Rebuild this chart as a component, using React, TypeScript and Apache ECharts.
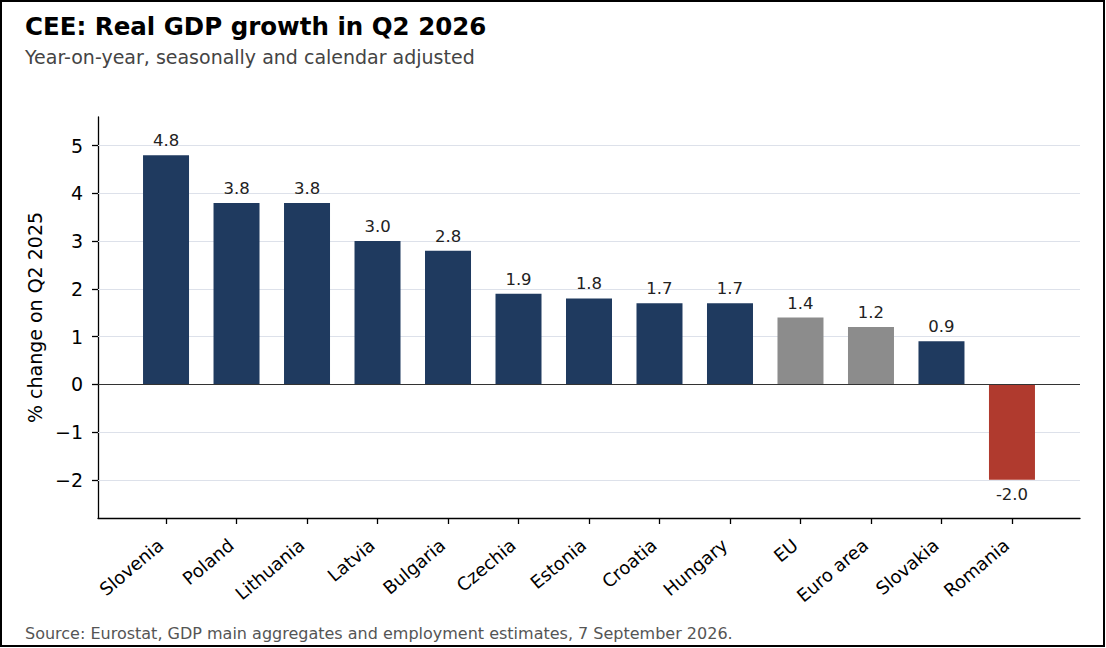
import React, { useEffect, useRef } from "react";
import * as echarts from "echarts";

const categories = ["Slovenia", "Poland", "Lithuania", "Latvia", "Bulgaria", "Czechia", "Estonia", "Croatia", "Hungary", "EU", "Euro area", "Slovakia", "Romania"];
const values = [4.8, 3.8, 3.8, 3.0, 2.8, 1.9, 1.8, 1.7, 1.7, 1.4, 1.2, 0.9, -2.0];
const groups = ["cee", "cee", "cee", "cee", "cee", "cee", "cee", "cee", "cee", "agg", "agg", "cee", "neg"];
const yTicks = [-2, -1, 0, 1, 2, 3, 4, 5];
const xTickIdx = categories.map((_, i) => i);

const COLORS: Record<string, string> = { cee: "#1f3a5f", agg: "#8c8c8c", neg: "#b03a2e" };
const FONT = "DejaVu Sans";

export default function App() {
  const ref = useRef<HTMLDivElement>(null);
  useEffect(() => {
    document.body.style.margin = "0";
    const chart = echarts.init(ref.current!, null, { renderer: "svg" });
    const data = values.map((v, i) => ({
      value: [i, v],
      itemStyle: { color: COLORS[groups[i]] },
      label: { position: v < 0 ? "bottom" : "top" },
    }));
    chart.setOption({
      animation: false,
      backgroundColor: "#ffffff",
      textStyle: { fontFamily: FONT },
      title: [
        { text: "CEE: Real GDP growth in Q2 2026", left: 25, top: 13.5, padding: 0, textStyle: { fontFamily: FONT, fontSize: 24.5, fontWeight: "bold", color: "#000" } },
        { text: "Year-on-year, seasonally and calendar adjusted", left: 25, top: 47, padding: 0, textStyle: { fontFamily: FONT, fontSize: 19, fontWeight: "normal", color: "#444" } },
        { text: "Source: Eurostat, GDP main aggregates and employment estimates, 7 September 2026.", left: 25, top: 625.5, padding: 0, textStyle: { fontFamily: FONT, fontSize: 16, fontWeight: "normal", color: "#555" } },
      ],
      graphic: [
        { type: "rect", shape: { x: 1, y: 1, width: 1103, height: 645 }, style: { fill: "none", stroke: "#000", lineWidth: 2 }, silent: true },
      ],
      grid: { left: 98, right: 26, top: 117, bottom: 130, containLabel: false },
      xAxis: {
        type: "value",
        min: -0.965,
        max: 12.965,
        axisLine: { show: true, onZero: false, lineStyle: { color: "#000", width: 1.3 } },
        axisTick: { show: true, length: 6, customValues: xTickIdx, lineStyle: { color: "#000", width: 1.3 } },
        axisLabel: {
          customValues: xTickIdx,
          formatter: (v: number) => categories[Math.round(v)] ?? "",
          rotate: 40,
          fontSize: 18,
          color: "#000",
          margin: 20,
          padding: [0, 7, 0, 0],
          fontFamily: FONT,
        },
        splitLine: { show: false },
      },
      yAxis: {
        type: "value",
        min: -2.8,
        max: 5.6,
        name: "% change on Q2 2025",
        nameLocation: "middle",
        nameGap: 54,
        nameTextStyle: { fontSize: 19, color: "#000", fontFamily: FONT },
        axisLine: { show: true, onZero: false, lineStyle: { color: "#000", width: 1.3 } },
        axisTick: { show: true, length: 6, customValues: yTicks, lineStyle: { color: "#000", width: 1.3 } },
        axisLabel: {
          customValues: yTicks,
          formatter: (v: number) => (v < 0 ? "\u2212" + Math.abs(v) : String(v)),
          fontSize: 19,
          color: "#000",
          margin: 15,
          fontFamily: FONT,
        },
        splitLine: { show: false },
      },
      series: [
        {
          type: "bar",
          data,
          barWidth: 46,
          z: 3,
          label: {
            show: true,
            formatter: (p: any) => p.value[1].toFixed(1),
            fontSize: 16.5,
            color: "#222",
            distance: 6,
            fontFamily: FONT,
          },
          markLine: {
            silent: true,
            symbol: "none",
            label: { show: false },
            z: 1,
            data: yTicks.filter((t) => t !== 0).map((t) => ({ yAxis: t, lineStyle: { color: "#dde1ea", width: 1.2, type: "solid" } })),
          },
        },
        {
          type: "line",
          data: [],
          z: 5,
          markLine: {
            silent: true,
            symbol: "none",
            label: { show: false },
            data: [{ yAxis: 0, lineStyle: { color: "#333", width: 1.2, type: "solid" } }],
          },
        },
      ],
    });
    return () => chart.dispose();
  }, []);
  return <div ref={ref} style={{ width: 1106, height: 648 }} />;
}
